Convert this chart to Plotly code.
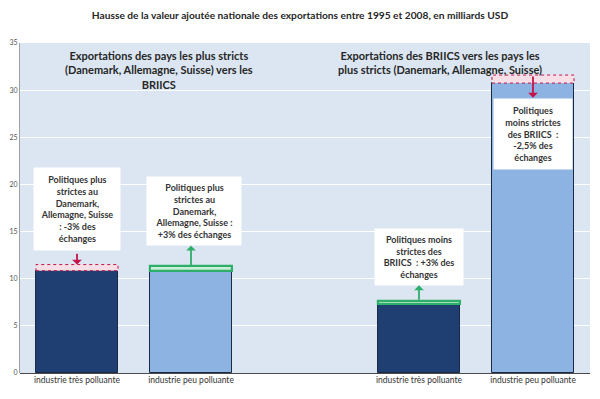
import plotly.graph_objects as go

# ---- data ----
groups = ["Exportations des pays les plus stricts (Danemark, Allemagne, Suisse) vers les BRIICS",
          "Exportations des BRIICS vers les pays les plus stricts (Danemark, Allemagne, Suisse)"]
categories = ["industrie très polluante", "industrie peu polluante",
              "industrie très polluante", "industrie peu polluante"]
group_index = [0, 0, 1, 1]
cat_index = [0, 1, 0, 1]
values = [10.85, 10.85, 7.3, 30.75]          # milliards USD
policy_effect = [-0.65, 0.45, 0.3, -0.85]    # effet des politiques (perte / gain)
effect_labels = [
    "Politiques plus<br>strictes au<br>Danemark,<br>Allemagne, Suisse<br>: -3% des<br>échanges",
    "Politiques plus<br>strictes au<br>Danemark,<br>Allemagne, Suisse :<br>+3% des échanges",
    "Politiques moins<br>strictes des<br>BRIICS  : +3% des<br>échanges",
    "Politiques<br>moins strictes<br>des BRIICS  :<br>-2,5% des<br>échanges",
]
header_texts = [
    "Exportations des pays les plus stricts<br>(Danemark, Allemagne, Suisse) vers les<br>BRIICS",
    "Exportations des BRIICS vers les pays les<br>plus stricts (Danemark, Allemagne, Suisse)",
]
y_ticks = [0, 5, 10, 15, 20, 25, 30, 35]
title = "Hausse de la valeur ajoutée nationale des exportations entre 1995 et 2008, en milliards USD"

# ---- style ----
FONT = "Lato"
DARK = "#1f3f72"
LIGHT = "#8db3e2"
GREEN = "#2fae6a"
GREEN_FILL = "#c9efd8"
RED = "#c4144a"
PINK_FILL = "#f6dfe6"
BAR_W = 0.72

xpos = [g * 3 + c for g, c in zip(group_index, cat_index)]
colors = [DARK if c == 0 else LIGHT for c in cat_index]

fig = go.Figure()
fig.add_trace(go.Bar(x=xpos, y=values, width=BAR_W,
                     marker=dict(color=colors, line=dict(color="#1b2a44", width=1)),
                     showlegend=False, hoverinfo="skip"))

# gains: green caps stacked on the bars
gx = [x for x, e in zip(xpos, policy_effect) if e > 0]
gb = [v for v, e in zip(values, policy_effect) if e > 0]
gy = [e for e in policy_effect if e > 0]
fig.add_trace(go.Bar(x=gx, y=gy, base=gb, width=BAR_W,
                     marker=dict(color=GREEN_FILL, line=dict(color=GREEN, width=2.2)),
                     showlegend=False, hoverinfo="skip"))

# losses: dotted boxes above the bars
for x, v, e in zip(xpos, values, policy_effect):
    if e < 0:
        top = v - e
        xs = [x - BAR_W / 2, x + BAR_W / 2, x + BAR_W / 2, x - BAR_W / 2, x - BAR_W / 2]
        ys = [v, v, top, top, v]
        fig.add_trace(go.Scatter(x=xs, y=ys, mode="lines", fill="toself",
                                 fillcolor=PINK_FILL,
                                 line=dict(color=RED, width=1, dash="dot"),
                                 showlegend=False, hoverinfo="skip"))

# label boxes and arrows
box_layout = [  # (x offset, y centre, width, height)
    (0.0, 17.4, 84, 80),
    (0.03, 17.2, 92, 66),
    (0.0, 12.3, 86, 54),
    (0.0, 25.4, 76, 68),
]
arrow_far = [12.8, 13.5, 9.3, 29.2]  # other end of each arrow
for i, (x, v, e, txt) in enumerate(zip(xpos, values, policy_effect, effect_labels)):
    dx, yc, w, h = box_layout[i]
    fig.add_annotation(x=x + dx, y=yc, xref="x", yref="y", text="<b>" + txt + "</b>",
                       showarrow=False, bgcolor="white", width=w, height=h,
                       font=dict(family=FONT, size=9, color="#333333"),
                       align="center", valign="middle")
    top = v + abs(e)
    if e < 0 and i == 0:
        tail, head = arrow_far[i], top
    else:
        tail, head = top, arrow_far[i]
    fig.add_annotation(x=x, y=head, ax=x, ay=tail, xref="x", yref="y",
                       axref="x", ayref="y", text="", showarrow=True,
                       arrowhead=1, arrowsize=0.9, arrowwidth=1.8,
                       arrowcolor=RED if e < 0 else GREEN)

# group headers
header_x = [0.72, 3.18]
for hx, t in zip(header_x, header_texts):
    fig.add_annotation(x=hx, y=34.6, xref="x", yref="y", text="<b>" + t + "</b>",
                       showarrow=False, yanchor="top",
                       font=dict(family=FONT, size=11, color="#262626"), align="center")

fig.update_layout(
    width=600, height=399,
    margin=dict(l=20, r=10, t=43, b=26),
    paper_bgcolor="white", plot_bgcolor="#dce6f2",
    barmode="overlay", bargap=0,
    title=dict(text="<b>" + title + "</b>", x=0.5, xanchor="center",
               y=1 - 15 / 399, yanchor="middle", yref="container",
               font=dict(family=FONT, size=10.2, color="#262626")),
    xaxis=dict(range=[-0.5, 4.5], tickvals=xpos, ticktext=categories,
               showgrid=False, zeroline=False, showline=False, ticks="",
               tickfont=dict(family=FONT, size=8.5, color="#333333")),
    yaxis=dict(range=[0, 35], tickvals=y_ticks, showgrid=True, gridcolor="white",
               gridwidth=1, zeroline=True, zerolinecolor="#4a4a4a", zerolinewidth=1,
               showline=True, linecolor="#a0a0a0", linewidth=1, ticks="",
               tickfont=dict(family=FONT, size=7, color="#555555")),
)

fig.write_html("out.html", config={"displayModeBar": False},
               post_script="document.body.style.margin='0px';")
